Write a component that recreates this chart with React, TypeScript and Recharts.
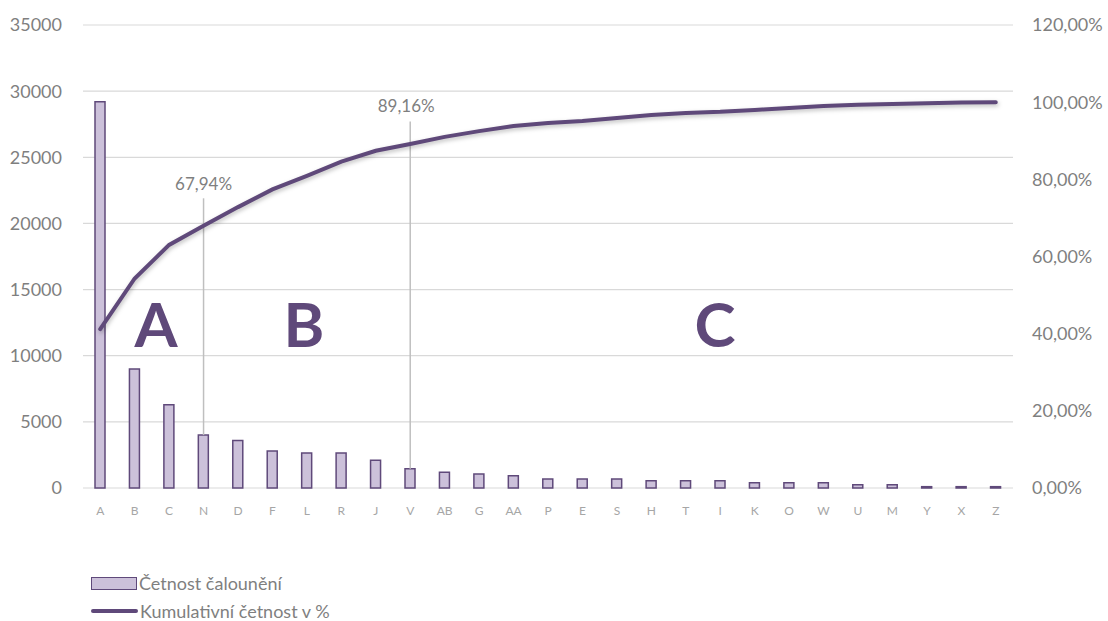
import React from "react";
import {
  Bar,
  CartesianGrid,
  ComposedChart,
  Line,
  ReferenceLine,
  XAxis,
  YAxis
} from "recharts";

const categories = ["A", "B", "C", "N", "D", "F", "L", "R", "J", "V", "AB", "G", "AA", "P", "E", "S", "H", "T", "I", "K", "O", "W", "U", "M", "Y", "X", "Z"];
const counts = [29200, 9000, 6300, 4000, 3600, 2800, 2650, 2650, 2100, 1450, 1200, 1050, 930, 680, 680, 680, 550, 550, 550, 400, 400, 400, 250, 250, 100, 100, 100];
const cumulative = [41.2, 54.3, 63.0, 67.94, 72.8, 77.4, 80.9, 84.6, 87.4, 89.16, 91.0, 92.5, 93.8, 94.6, 95.1, 95.9, 96.7, 97.2, 97.5, 98.0, 98.5, 99.0, 99.3, 99.5, 99.7, 99.9, 100];
const leftTicks = [0, 5000, 10000, 15000, 20000, 25000, 30000, 35000];
const rightTicks = [0, 20, 40, 60, 80, 100, 120];

const PURPLE = "#5F497A";
const LAVENDER = "#CCC1DA";
const GRID = "#d9d9d9";
const TEXT = "#7f7f7f";

const data = categories.map((name, i) => ({ name, count: counts[i], cum: cumulative[i] }));

const pct = (v: number) => `${v.toFixed(2).replace(".", ",")}%`;

export default function App() {
  return (
    <div style={{ position: "absolute", left: 0, top: 0, width: 1108, height: 621, background: "#fff", fontFamily: "Lato" }}>
      <style>{`.cum-line path { filter: drop-shadow(1px 2px 2px rgba(0,0,0,0.25)); }`}</style>
      <ComposedChart width={1108} height={621} data={data} margin={{ top: 25, right: 0, left: 0, bottom: 103 }}>
        <CartesianGrid vertical={false} stroke={GRID} strokeWidth={1.2} yAxisId="left" />
        <XAxis
          dataKey="name"
          height={30}
          axisLine={false}
          tickLine={false}
          tickSize={0}
          tickMargin={18}
          interval={0}
          tick={{ fill: "#a6a6a6", fontSize: 12 }}
        />
        <YAxis
          yAxisId="left"
          width={83}
          domain={[0, 35000]}
          ticks={leftTicks}
          axisLine={false}
          tickLine={false}
          tickSize={0}
          tickMargin={21}
          tick={{ fill: TEXT, fontSize: 18 }}
        />
        <YAxis
          yAxisId="right"
          orientation="right"
          width={95}
          domain={[0, 120]}
          ticks={rightTicks}
          axisLine={false}
          tickLine={false}
          tickSize={0}
          tickMargin={19}
          tickFormatter={pct}
          tick={{ fill: TEXT, fontSize: 18 }}
        />
        <Bar yAxisId="left" dataKey="count" barSize={10} fill={LAVENDER} stroke={PURPLE} strokeWidth={1.5} isAnimationActive={false} />
        <ReferenceLine
          yAxisId="left"
          segment={[{ x: "N", y: 21900 }, { x: "N", y: 4000 }]}
          stroke="#bfbfbf"
          strokeWidth={1.5}
          label={{ value: "67,94%", position: "top", offset: 8, fill: TEXT, fontSize: 17 }}
        />
        <ReferenceLine
          yAxisId="left"
          segment={[{ x: "V", y: 27700 }, { x: "V", y: 1450 }]}
          stroke="#bfbfbf"
          strokeWidth={1.5}
          label={{ value: "89,16%", position: "top", offset: 10, dx: -4, fill: TEXT, fontSize: 17 }}
        />
        <Line
          className="cum-line"
          yAxisId="right"
          type="linear"
          dataKey="cum"
          stroke={PURPLE}
          strokeWidth={4}
          strokeLinecap="round"
          dot={false}
          isAnimationActive={false}
        />
      </ComposedChart>

      <svg width={1108} height={621} style={{ position: "absolute", left: 0, top: 0, pointerEvents: "none" }}>
        <g fontFamily="Lato" fontWeight={700} fontSize={62} fill={PURPLE} textAnchor="middle">
          <text x={156} y={347}>A</text>
          <text x={304} y={347}>B</text>
          <text x={715} y={347}>C</text>
        </g>
      </svg>

      <div style={{ position: "absolute", left: 91, top: 570, fontSize: 18, color: TEXT, lineHeight: "26px" }}>
        <div style={{ display: "flex", alignItems: "center", height: 26 }}>
          <span style={{ display: "inline-block", width: 44, height: 11, background: LAVENDER, border: `1.5px solid ${PURPLE}`, marginRight: 2 }} />
          <span>Četnost čalounění</span>
        </div>
        <div style={{ display: "flex", alignItems: "center", height: 26, marginTop: 2 }}>
          <span style={{ display: "inline-block", width: 47, height: 4, background: PURPLE, borderRadius: 2, marginRight: 2 }} />
          <span>Kumulativní četnost v %</span>
        </div>
      </div>
    </div>
  );
}
